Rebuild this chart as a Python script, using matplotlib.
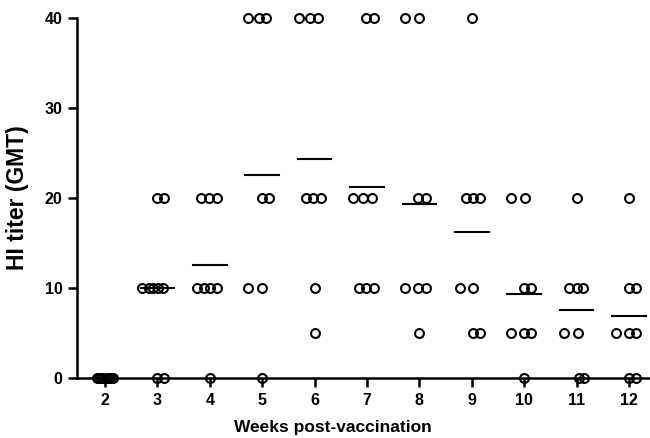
import matplotlib.pyplot as plt

weeks = [2, 3, 4, 5, 6, 7, 8, 9, 10, 11, 12]

# HI titers of individual animals, one list per week
titers = [
    [0, 0, 0, 0, 0, 0, 0, 0],
    [0, 0, 10, 10, 10, 10, 10, 20, 20],
    [0, 10, 10, 10, 10, 20, 20, 20],
    [0, 10, 10, 20, 20, 40, 40, 40],
    [5, 10, 20, 20, 20, 40, 40, 40],
    [10, 10, 10, 20, 20, 20, 40, 40],
    [5, 10, 10, 10, 20, 20, 40, 40],
    [5, 5, 10, 10, 20, 20, 20, 40],
    [0, 5, 5, 5, 10, 10, 20, 20],
    [0, 0, 5, 5, 10, 10, 10, 20],
    [0, 0, 5, 5, 5, 10, 10, 20],
]

# horizontal scatter of each circle within its week (in weeks)
spread = [
    [-0.15, -0.11, -0.08, -0.04, 0.04, 0.08, 0.11, 0.15],
    [0.0, 0.13, -0.29, -0.17, -0.08, 0.02, 0.11, 0.0, 0.13],
    [0.0, -0.25, -0.11, 0.0, 0.13, -0.17, -0.02, 0.13],
    [0.0, -0.27, 0.0, 0.0, 0.13, -0.27, -0.06, 0.08],
    [0.0, 0.0, -0.17, -0.04, 0.13, -0.29, -0.08, 0.06],
    [-0.15, -0.02, 0.13, -0.27, -0.08, 0.10, -0.02, 0.13],
    [0.0, -0.27, -0.02, 0.13, -0.02, 0.13, -0.27, 0.0],
    [0.02, 0.15, -0.23, 0.02, -0.11, 0.02, 0.15, 0.0],
    [0.0, -0.25, 0.0, 0.13, 0.0, 0.13, -0.25, 0.02],
    [0.04, 0.15, -0.25, 0.02, -0.15, 0.0, 0.13, 0.0],
    [0.0, 0.13, -0.25, 0.0, 0.13, 0.0, 0.13, 0.0],
]

plt.rcParams["font.family"] = ["Liberation Sans", "DejaVu Sans"]
plt.rcParams["font.weight"] = "bold"

fig = plt.figure(figsize=(6.5, 4.38), dpi=100)
ax = fig.add_axes([0.1185, 0.137, 0.8815, 0.822])

for wk, vals, offs in zip(weeks, titers, spread):
    xs = [wk + o for o in offs]
    ax.plot(xs, vals, linestyle="none", marker="o", markersize=6.4,
            markerfacecolor="none", markeredgecolor="black",
            markeredgewidth=1.5, clip_on=False, zorder=3)
    # mean titer of the week
    m = sum(vals) / len(vals)
    if m > 0:
        ax.plot([wk - 0.32, wk + 0.32], [m, m], color="black", linewidth=1.5)

ax.set_xlim(1.466, 12.40)
ax.set_ylim(0, 40)
ax.set_xticks(weeks)
ax.set_yticks([0, 10, 20, 30, 40])

ax.spines["top"].set_visible(False)
ax.spines["right"].set_visible(False)
ax.spines["left"].set_linewidth(1.8)
ax.spines["bottom"].set_linewidth(1.8)
ax.tick_params(axis="both", direction="out", length=6.5, width=1.8,
               labelsize=11.5, pad=4)

for lab in ax.get_xticklabels() + ax.get_yticklabels():
    lab.set_fontweight("bold")

ax.set_ylabel("HI titer (GMT)", fontsize=16.5, fontweight="bold")
ax.yaxis.set_label_coords(-0.083, 0.5)
ax.set_xlabel("Weeks post-vaccination", fontsize=12.5, fontweight="bold")
ax.xaxis.set_label_coords(0.447, -0.118)

plt.savefig("out.png", dpi=100)
plt.close()
